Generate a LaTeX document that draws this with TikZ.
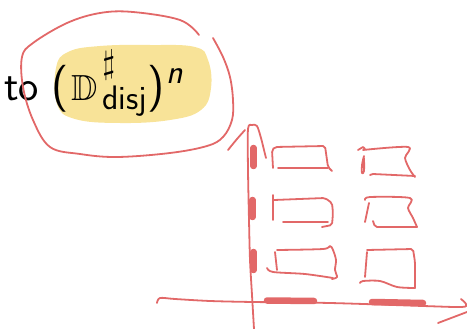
\documentclass[tikz,border=0pt]{standalone}
\usepackage{amsmath,amssymb,graphicx}
\definecolor{inkred}{RGB}{226,104,104}
\definecolor{marker}{RGB}{248,227,152}
\newcommand\setsz[1]{\fontsize{#1}{#1}\selectfont}
\begin{document}
\begin{tikzpicture}[x=1pt,y=-1pt,
  ink/.style={draw=inkred, line width=1.8pt, line cap=round, line join=round},
  blot/.style={draw=inkred, line width=6.5pt, line cap=round},
  box/.style={ink, rounded corners=2pt},
]
\useasboundingbox (0,0) rectangle (467,329);

% highlighter blob behind the formula
\fill[marker] plot[smooth cycle, tension=0.7] coordinates {
  (56,68) (68,52) (100,46) (150,45) (195,47) (208,60) (211,88)
  (201,110) (170,120) (120,123) (75,119) (57,104)};

% the formula: to (D^sharp_disj)^n, each part set at its own size
\node[anchor=base west, inner sep=0pt, font=\sffamily]
  (formula) at (4,101)
  {\setsz{43}to\kern12pt%
   {\setsz{47}(}\kern3pt%
   \resizebox{!}{25pt}{$\mathbb{D}$}\kern5pt%
   \rlap{\raisebox{27.5pt}{\resizebox*{!}{30pt}{$\sharp$}}}%
   \raisebox{-9pt}{\setsz{34}disj}%
   {\setsz{47})}\kern2.5pt%
   \raisebox{17pt}{\setsz{34}\itshape n}};

% loop drawn around the formula
\draw[ink] plot[smooth, tension=0.6] coordinates {
  (199,35) (180,20) (133,12) (100,13) (67,23) (33,43) (22,57) (23,87)
  (33,120) (50,147) (80,154) (117,157) (170,153) (207,146) (223,137)
  (232,120) (233,100) (230,77) (223,57) (213,38)};

% vertical axis with its hooked top
\draw[ink] plot[smooth, tension=0.6] coordinates {(228,150) (237,139) (245,130)};
\draw[ink] plot[smooth, tension=0.5] coordinates {
  (266,158) (264,150) (261,138) (257,126) (252,125) (248,129)
  (248,170) (249,220) (250,260) (252,295) (254,329)};

% horizontal axis
\draw[ink] plot[smooth, tension=0.5] coordinates {
  (157,303) (160,298) (175,299) (210,301) (253,302) (330,303)
  (423,306) (462,307) (466,304) (461,299)};
\draw[ink] (438,323) -- (467,312);

% thick marks on the axes
\draw[blot] (253.5,148) -- (253.5,166);
\draw[blot] (252.5,200) -- (252.5,217);
\draw[blot] (253.5,252) -- (253.5,270);
\draw[blot] (267,300.5) -- (314,301);
\draw[blot] (372,302) -- (423,303);

% row 1, left box
\draw[box] (273,168) -- (272,150) -- (275,147) -- (325,146) -- (328,167) -- (332,171);
\draw[box] (278,168) -- (328,168);
% row 1, right box
\draw[ink] (358,150) -- (363,147) -- (365,149);
\draw[ink] plot[smooth, tension=0.6] coordinates {(364,156) (362,165) (362,173) (364,171) (364,158)};
\draw[ink] plot[smooth, tension=0.5] coordinates {(363,150) (408,147) (405,158) (410,170) (415,177)};
\draw[ink] (370,175) -- (373,174) -- (415,176);

% row 2, left box
\draw[ink] (273,195) -- (273,220);
\draw[box] (274,200) -- (325,198) -- (332,203) -- (333,213) -- (332,225) -- (322,227);
\draw[ink] (283,222) -- (328,222);
% row 2, right box
\draw[ink] plot[smooth, tension=0.5] coordinates {(365,200) (370,197) (410,198) (408,208) (413,218) (417,227)};
\draw[ink] (369,203) -- (365,222);
\draw[box] (373,221) -- (375,227) -- (417,227);

% row 3, left box
\draw[ink] (275,252) -- (277,270);
\draw[ink] plot[smooth, tension=0.5] coordinates {(277,250) (323,249) (330,246) (333,250) (336,260) (335,270) (337,277) (332,279)};
\draw[ink] plot[smooth, tension=0.5] coordinates {(267,268) (273,272) (305,274) (333,278)};
% row 3, right box
\draw[ink] (367,252) -- (365,277);
\draw[box] (367,250) -- (413,249) -- (415,262) -- (415,288);
\draw[ink] plot[smooth, tension=0.5] coordinates {(360,283) (363,281) (380,281) (397,287) (415,288)};
\end{tikzpicture}
\end{document}
